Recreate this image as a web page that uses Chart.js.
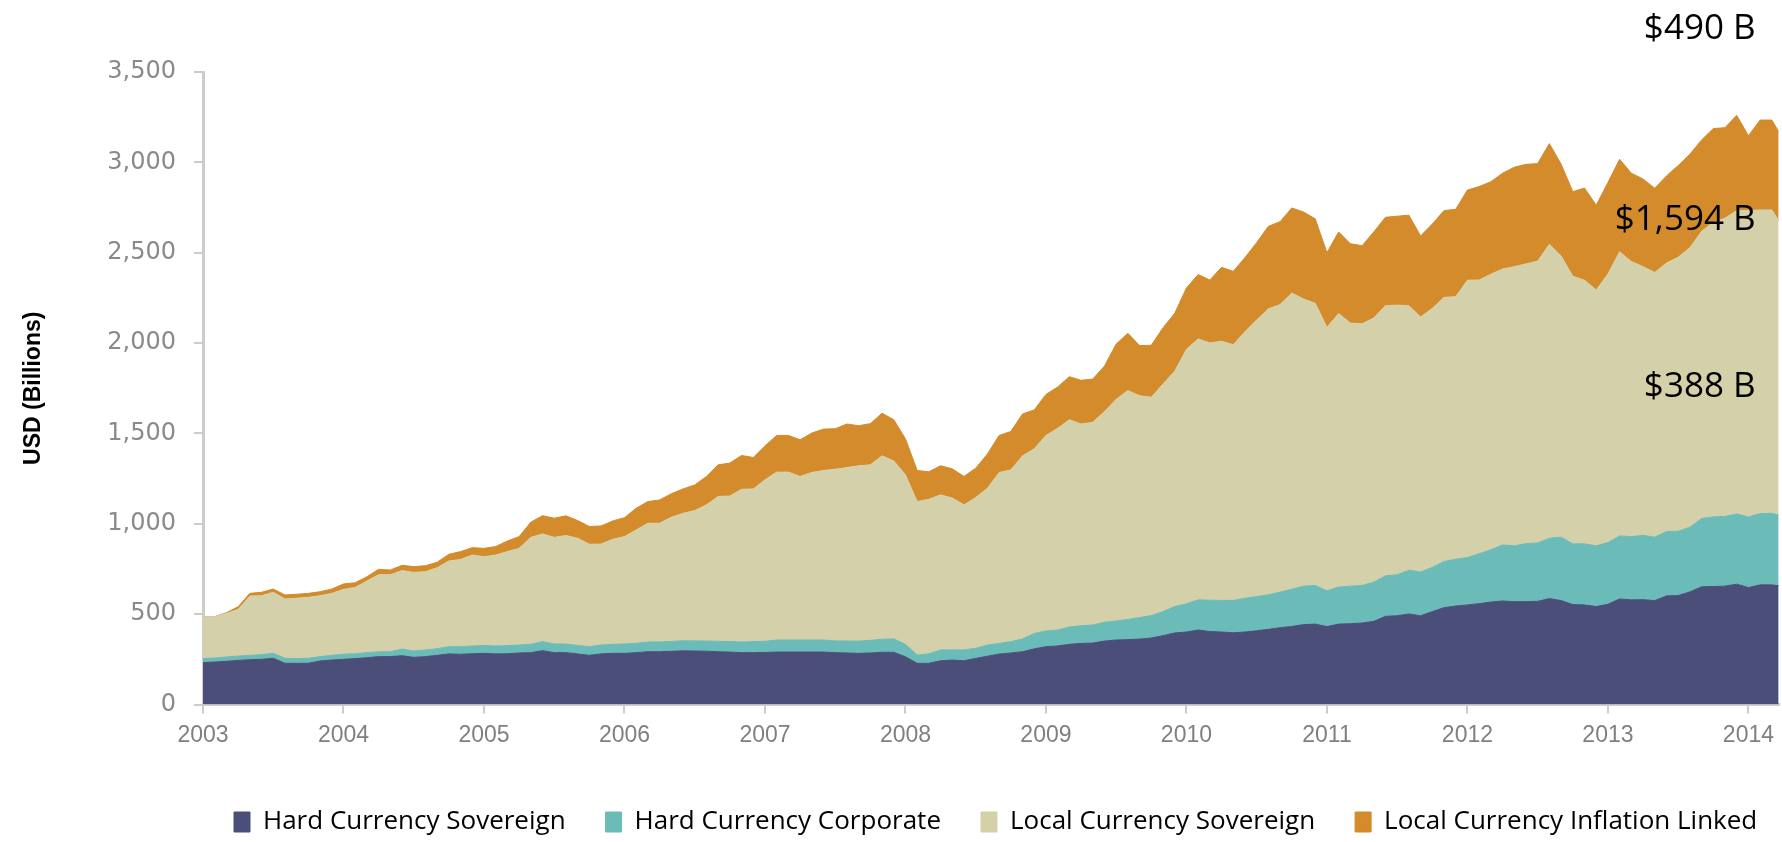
<!DOCTYPE html>
<html>
<head>
<meta charset="utf-8">
<script src="https://cdn.jsdelivr.net/npm/chart.js@4.4.1/dist/chart.umd.min.js"></script>
<style>
html,body{margin:0;padding:0;background:#ffffff;}
#wrap{position:relative;width:1782px;height:842px;}
</style>
</head>
<body>
<div id="wrap"><canvas id="c"></canvas></div>
<script>
// ---------- DATA (USD billions, monthly from Jan 2003) ----------
const startYear = 2003;
const yearTicks = [2003,2004,2005,2006,2007,2008,2009,2010,2011,2012,2013,2014];
const yTickValues = [0,500,1000,1500,2000,2500,3000,3500];
const seriesNames = ['Hard Currency Sovereign','Hard Currency Corporate','Local Currency Sovereign','Local Currency Inflation Linked'];

const hardSov = [
232,235,239,244,248,250,256,228,228,228,241,246,
250,254,259,265,265,270,261,265,272,280,278,281,
283,280,281,285,287,298,287,287,280,272,280,283,
283,287,292,292,294,297,296,295,292,290,287,287,
288,290,290,290,290,290,287,285,283,285,289,289,
264,228,228,242,246,242,255,267,279,285,292,308,
320,324,333,338,340,351,357,359,362,368,381,396,
401,412,404,401,397,401,408,416,425,432,442,445,
431,445,447,451,460,488,491,501,491,514,536,545,
551,558,567,573,569,569,571,586,575,553,551,542,
555,584,579,580,575,601,603,623,651,653,655,666,
647,662,662,653];

const hardCorp = [
22,22,24,24,24,26,27,28,26,28,24,26,
28,27,28,27,27,37,35,37,37,40,42,43,
43,44,45,44,46,50,48,48,47,48,49,50,
52,52,54,54,55,56,56,56,58,58,59,61,
62,67,67,67,67,67,65,66,68,70,72,74,
69,46,52,60,56,60,56,62,59,63,71,85,
87,88,96,98,100,104,105,112,119,124,133,146,
156,167,173,175,179,187,189,191,197,206,213,214,
198,205,208,208,217,224,227,242,242,245,255,259,
262,276,289,310,309,321,323,334,351,336,338,336,
341,349,350,356,351,356,356,358,378,385,386,388,
391,394,396,388];

const localSov = [
232,229,241,258,328,326,338,328,334,337,337,343,
359,367,396,426,426,434,435,433,448,474,483,503,
492,503,520,535,592,596,590,600,593,567,559,581,
594,627,657,657,687,705,721,754,801,806,845,845,
893,929,929,905,927,938,950,960,970,971,1015,985,
938,849,856,858,840,803,834,868,946,950,1013,1022,
1082,1116,1147,1116,1122,1166,1227,1266,1228,1208,1260,1302,
1409,1444,1424,1434,1415,1475,1531,1583,1591,1639,1589,1561,
1458,1513,1456,1448,1462,1495,1492,1464,1411,1433,1462,1453,
1535,1515,1525,1527,1545,1548,1560,1627,1556,1481,1459,1416,
1486,1572,1522,1487,1465,1486,1516,1547,1589,1631,1650,1679,
1695,1681,1679,1594];

const localInfl = [
0,0,4,15,15,19,18,22,22,22,22,24,
30,26,24,30,26,29,32,33,30,37,43,41,
46,47,59,65,84,101,106,109,98,98,100,102,
105,120,120,129,130,135,142,157,175,182,187,174,
188,203,203,203,218,229,224,241,222,228,236,228,
199,172,152,161,162,157,163,189,205,213,232,215,
227,229,238,242,239,252,306,317,277,288,311,321,
339,356,348,409,406,410,428,456,459,471,481,468,
413,452,439,432,476,489,492,501,449,467,480,483,
499,517,512,530,550,551,539,557,508,468,510,469,
506,512,489,485,466,482,507,517,506,518,501,527,
414,497,497,490];

const annotationTexts = ['$490 B','$1,594 B','$388 B'];
const annotationValues = [3683, 2626, 1702];

// ---------- CHART ----------
const monthX = hardSov.map((_, i) => startYear + i / 12);
const xViewMax = 2014.215;
const colors = ['#4B4E78','#6BBCB8','#D4D0AA','#D38B2B'];
const series = [hardSov, hardCorp, localSov, localInfl];
const sans = "'Liberation Sans', Arial, sans-serif";
const legendPad = 40;

const datasets = series.map((vals, k) => ({
  label: seriesNames[k],
  data: vals.map((v, i) => ({x: monthX[i], y: v})),
  backgroundColor: colors[k],
  borderColor: colors[k],
  borderWidth: 1,
  pointRadius: 0,
  pointHoverRadius: 0,
  tension: 0,
  fill: k === 0 ? 'origin' : '-1'
}));

const labelPlugin = {
  id: 'valueLabels',
  afterDatasetsDraw(chart) {
    const {ctx, chartArea, scales} = chart;
    ctx.save();
    ctx.font = "35px 'Open Sans'";
    ctx.fillStyle = '#000000';
    ctx.textAlign = 'right';
    ctx.textBaseline = 'alphabetic';
    annotationTexts.forEach((t, k) => {
      ctx.fillText(t, chartArea.right - 23, scales.y.getPixelForValue(annotationValues[k]));
    });
    ctx.restore();
  }
};

// place the single-row legend as in the source (starts a little right of the plot's left edge)
const legendPlace = {
  id: 'legendPlace',
  afterLayout(chart) {
    const lg = chart.legend, ca = chart.chartArea;
    if (!lg) return;
    lg.left = ca.left + 31 - legendPad;
    lg.right = ca.right + 400;
    lg.width = lg.right - lg.left;
    lg.top += 3;
    lg.bottom += 3;
  }
};

new Chart(document.getElementById('c'), {
  type: 'line',
  data: {datasets},
  options: {
    responsive: true,
    maintainAspectRatio: false,
    animation: false,
    events: [],
    layout: {padding: {top: 72, right: 0, bottom: 0, left: 0}},
    plugins: {
      legend: {
        position: 'bottom',
        align: 'start',
        fullSize: true,
        labels: {
          boxWidth: 16, boxHeight: 20, padding: legendPad, color: '#000000',
          font: {family: "'Open Sans'", size: 26}
        }
      },
      tooltip: {enabled: false}
    },
    scales: {
      x: {
        type: 'linear',
        min: startYear,
        max: xViewMax,
        afterBuildTicks: s => { s.ticks = yearTicks.map(v => ({value: v})); },
        afterFit: s => { s.height = 61.5; },
        ticks: {
          callback: v => String(v),
          color: '#7f7f7f',
          padding: 8,
          maxRotation: 0,
          autoSkip: false,
          font: {family: sans, size: 23}
        },
        grid: {display: true, drawOnChartArea: false, drawTicks: true, tickLength: 9, color: '#cccccc', lineWidth: 2},
        border: {display: true, color: '#cccccc', width: 3}
      },
      y: {
        stacked: true,
        min: 0,
        max: 3500,
        afterBuildTicks: s => { s.ticks = yTickValues.map(v => ({value: v})); },
        afterFit: s => { s.width = 203; },
        ticks: {
          callback: v => v.toLocaleString('en-US'),
          color: '#8a8a8a',
          padding: 18,
          font: {family: "'DejaVu Sans'", size: 24}
        },
        title: {
          display: true,
          text: 'USD (Billions)',
          color: '#000000',
          padding: {top: 20, bottom: 0},
          font: {family: sans, size: 23, weight: 'bold'}
        },
        grid: {display: true, drawOnChartArea: false, drawTicks: true, tickLength: 9, color: '#cccccc', lineWidth: 2},
        border: {display: true, color: '#cccccc', width: 3}
      }
    }
  },
  plugins: [labelPlugin, legendPlace]
});
</script>
</body>
</html>
